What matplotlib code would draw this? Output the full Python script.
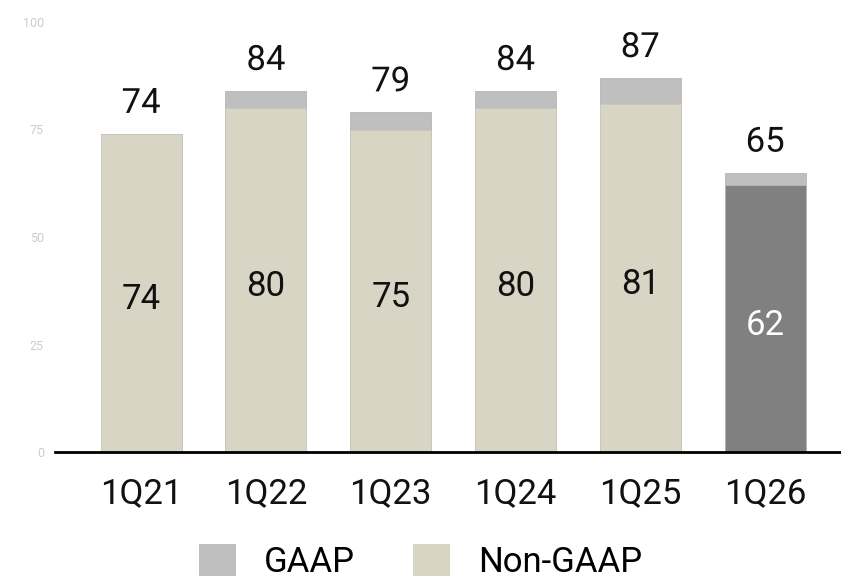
import matplotlib.pyplot as plt
import matplotlib.patheffects as pe
from matplotlib.patches import Patch

plt.rcParams['font.family'] = ['Roboto', 'DejaVu Sans']

quarters = ["1Q21", "1Q22", "1Q23", "1Q24", "1Q25", "1Q26"]
gaap = [74, 84, 79, 84, 87, 65]
non_gaap = [74, 80, 75, 80, 81, 62]

c_gaap = "#c0bfc0"
c_non = "#d9d5c5"
c_dark = "#808080"
halo = [pe.withStroke(linewidth=5, foreground="white")]

fig = plt.figure(figsize=(8.41, 5.79), dpi=100)
ax = fig.add_axes([55 / 841, 127 / 579, 785 / 841, 430 / 579])

x = range(len(quarters))
width = 0.65
non_colors = [c_non] * (len(quarters) - 1) + [c_dark]

# GAAP bars sit behind, Non-GAAP drawn on top
ax.bar(x, gaap, width, color=c_gaap, edgecolor="#b5b5b5", linewidth=0.6, zorder=2)
ax.bar(x, non_gaap, width, color=non_colors, edgecolor="#c8c5b8", linewidth=0.4, zorder=3)

for i, (g, n) in enumerate(zip(gaap, non_gaap)):
    ax.annotate(str(g), (i, g), xytext=(0, 10), textcoords="offset points",
                ha="center", va="bottom", fontsize=25, color="#111111",
                path_effects=halo, zorder=5)
    txt_color = "white" if i == len(quarters) - 1 else "#111111"
    ax.text(i, n / 2 - 1.5, str(n), ha="center", va="center", fontsize=25,
            color=txt_color, zorder=5)

ax.set_xlim(-0.69, 5.6)
ax.set_ylim(0, 100)
ax.set_yticks([0, 25, 50, 75, 100])
ax.set_xticks(list(x))
ax.set_xticklabels(quarters, fontsize=25, color="#111111")
ax.tick_params(axis="y", labelsize=9, labelcolor="#cccccc", length=0, pad=8)
ax.tick_params(axis="x", length=0, pad=18)

for s in ["top", "right", "left"]:
    ax.spines[s].set_visible(False)
ax.spines["bottom"].set_linewidth(2)
ax.spines["bottom"].set_color("black")
ax.spines["bottom"].set_zorder(4)

handles = [Patch(facecolor=c_gaap, label="GAAP"),
           Patch(facecolor=c_non, label="Non-GAAP")]
fig.legend(handles=handles, loc="center", bbox_to_anchor=(0.5, 0.031),
           ncol=2, frameon=False, fontsize=25, handlelength=1.05,
           handleheight=1.05, columnspacing=1.7, handletextpad=0.8,
           borderpad=0)

fig.savefig("out.png", dpi=100)
